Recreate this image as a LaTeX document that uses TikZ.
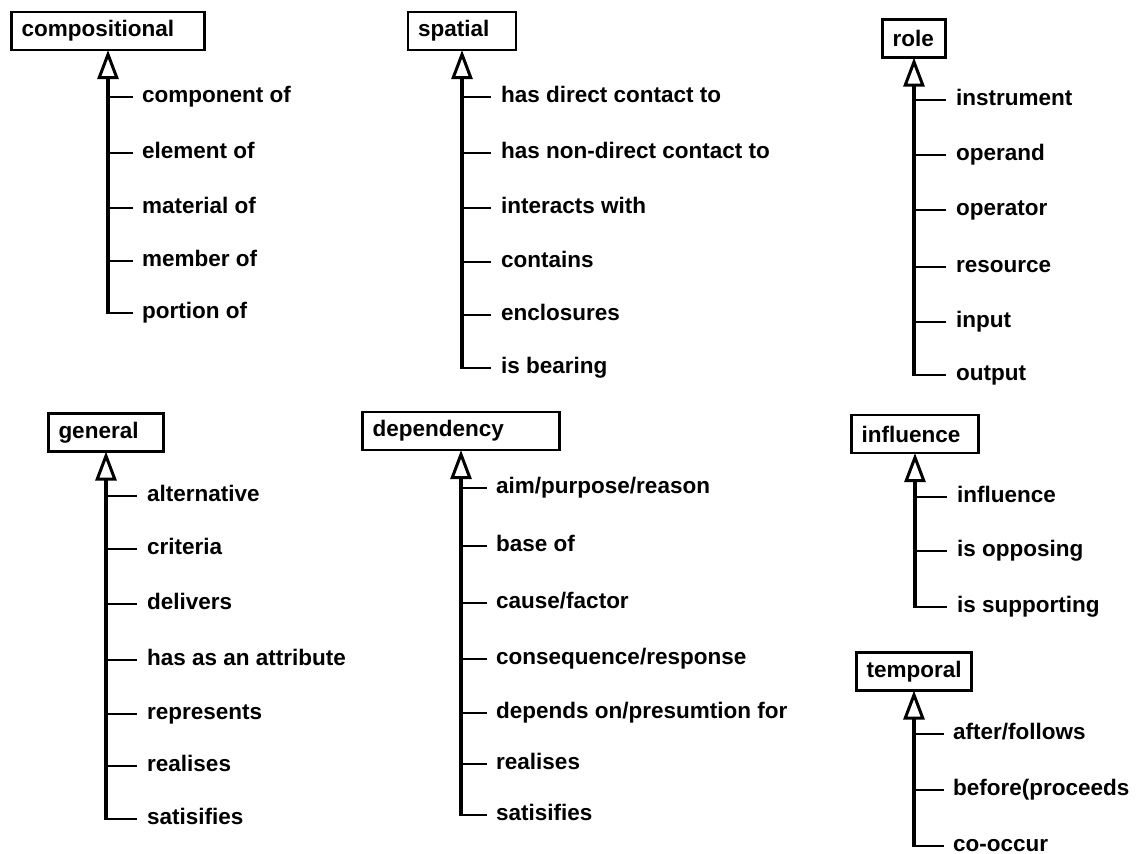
\documentclass[tikz,border=0pt]{standalone}
\usepackage{fontspec}
\setmainfont{Liberation Sans}
\usetikzlibrary{arrows.meta}
\newcommand{\relfont}{\bfseries\fontsize{22.5}{27}\selectfont}
\tikzset{
	catbox/.style={draw, line width=2.5pt, inner xsep=10pt, inner ysep=0pt, minimum height=38pt, align=left, font=\relfont},
	relitem/.style={anchor=west, inner sep=0pt, text height=16.5pt, text depth=5pt, font=\relfont},
	trunk/.style={line width=3.5pt, -{Triangle[open, length=29pt, width=21pt, line width=3pt]}, shorten >=-1.2pt},
	twig/.style={line width=2.5pt},
}
\begin{document}
\begin{tikzpicture}[x=1pt,y=-1pt]
	\useasboundingbox (0,0) rectangle (1136,854);
	% compositional
	\node[catbox, text width=173pt] (comp) at (108,31) {compositional};
	\node[relitem] (comp1) at (142,97) {component of};
	\node[relitem] (comp2) at (142,153) {element of};
	\node[relitem] (comp3) at (142,208) {material of};
	\node[relitem] (comp4) at (142,261) {member of};
	\node[relitem] (comp5) at (142,313) {portion of};
	% spatial
	\node[catbox, text width=88pt] (spat) at (462,31) {spatial};
	\node[relitem] (spat1) at (501,97) {has direct contact to};
	\node[relitem] (spat2) at (501,153) {has non-direct contact to};
	\node[relitem] (spat3) at (501,208) {interacts with};
	\node[relitem] (spat4) at (501,262) {contains};
	\node[relitem] (spat5) at (501,315) {enclosures};
	\node[relitem] (spat6) at (501,368) {is bearing};
	% role
	\node[catbox, text width=43pt] (role) at (914,38.5) {role};
	\node[relitem] (role1) at (956,100) {instrument};
	\node[relitem] (role2) at (956,155) {operand};
	\node[relitem] (role3) at (956,210) {operator};
	\node[relitem] (role4) at (956,267) {resource};
	\node[relitem] (role5) at (956,322) {input};
	\node[relitem] (role6) at (956,375) {output};
	% general
	\node[catbox, text width=95pt] (gen) at (106,432.5) {general};
	\node[relitem] (gen1) at (147,496) {alternative};
	\node[relitem] (gen2) at (147,549) {criteria};
	\node[relitem] (gen3) at (147,604) {delivers};
	\node[relitem] (gen4) at (147,660) {has as an attribute};
	\node[relitem] (gen5) at (147,714) {represents};
	\node[relitem] (gen6) at (147,766) {realises};
	\node[relitem] (gen7) at (147,819) {satisifies};
	% dependency
	\node[catbox, text width=177pt] (dep) at (461,431) {dependency};
	\node[relitem] (dep1) at (496,488) {aim/purpose/reason};
	\node[relitem] (dep2) at (496,546) {base of};
	\node[relitem] (dep3) at (496,603) {cause/factor};
	\node[relitem] (dep4) at (496,659) {consequence/response};
	\node[relitem] (dep5) at (496,713) {depends on/presumtion for};
	\node[relitem] (dep6) at (496,764) {realises};
	\node[relitem] (dep7) at (496,815) {satisifies};
	% influence
	\node[catbox, text width=107pt] (infl) at (915,434) {influence};
	\node[relitem] (infl1) at (957,497) {influence};
	\node[relitem] (infl2) at (957,551) {is opposing};
	\node[relitem] (infl3) at (957,607) {is supporting};
	% temporal
	\node[catbox, text width=95pt] (temp) at (914,671.5) {temporal};
	\node[relitem] (temp1) at (953,734) {after/follows};
	\node[relitem] (temp2) at (953,790) {before(proceeds};
	\node[relitem] (temp3) at (953,846) {co-occur};
	% trunks
	\draw[trunk] ([yshift=-1.2pt]comp5.west -| comp.south) -- (comp.south);
	\draw[trunk] ([yshift=-1.2pt]spat6.west -| spat.south) -- (spat.south);
	\draw[trunk] ([yshift=-1.2pt]role6.west -| role.south) -- (role.south);
	\draw[trunk] ([yshift=-1.2pt]gen7.west -| gen.south) -- (gen.south);
	\draw[trunk] ([yshift=-1.2pt]dep7.west -| dep.south) -- (dep.south);
	\draw[trunk] ([yshift=-1.2pt]infl3.west -| infl.south) -- (infl.south);
	\draw[trunk] ([yshift=-1.2pt]temp3.west -| temp.south) -- (temp.south);
	% twigs
	\foreach \n in {comp1,comp2,comp3,comp4,comp5}
		\draw[twig] (\n.west -| comp.south) -- ([xshift=-9pt]\n.west);
	\foreach \n in {spat1,spat2,spat3,spat4,spat5,spat6}
		\draw[twig] (\n.west -| spat.south) -- ([xshift=-10pt]\n.west);
	\foreach \n in {role1,role2,role3,role4,role5,role6}
		\draw[twig] (\n.west -| role.south) -- ([xshift=-10pt]\n.west);
	\foreach \n in {gen1,gen2,gen3,gen4,gen5,gen6,gen7}
		\draw[twig] (\n.west -| gen.south) -- ([xshift=-10pt]\n.west);
	\foreach \n in {dep1,dep2,dep3,dep4,dep5,dep6,dep7}
		\draw[twig] (\n.west -| dep.south) -- ([xshift=-9pt]\n.west);
	\foreach \n in {infl1,infl2,infl3}
		\draw[twig] (\n.west -| infl.south) -- ([xshift=-10pt]\n.west);
	\foreach \n in {temp1,temp2,temp3}
		\draw[twig] (\n.west -| temp.south) -- ([xshift=-9pt]\n.west);
\end{tikzpicture}
\end{document}
